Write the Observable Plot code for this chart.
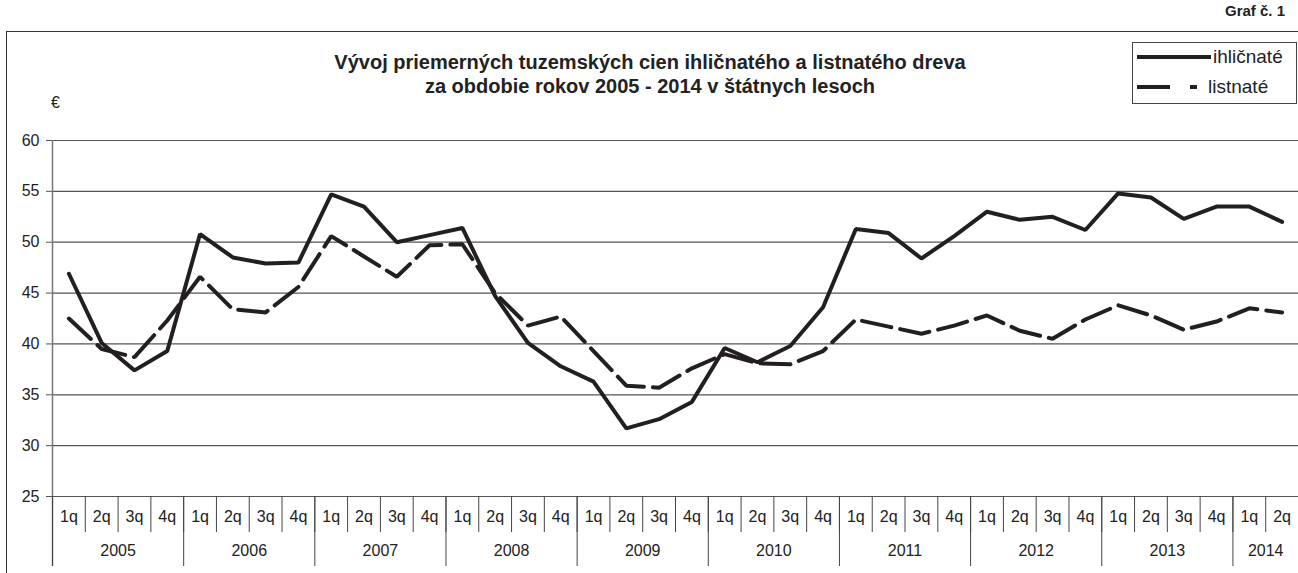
<!DOCTYPE html>
<html>
<head>
<meta charset="utf-8">
<script src="https://cdn.jsdelivr.net/npm/d3@7"></script>
<script src="https://cdn.jsdelivr.net/npm/@observablehq/plot@0.6"></script>
<style>
  body { margin: 0; background: #fff; font-family: "Liberation Sans", Arial, sans-serif; color: #222; }
  #wrap { position: relative; width: 1298px; height: 573px; overflow: hidden; background: #fff; }
  #chart { position: absolute; left: 0; top: 0; }
  #frame { position: absolute; left: 6px; top: 31px; width: 1300px; height: 560px;
           border-top: 1.5px solid #333; border-left: 1.5px solid #333; }
  #graf { position: absolute; right: 13px; top: 2px; font-weight: bold; font-size: 15px; line-height: 18px; }
  #title { position: absolute; left: 250px; width: 800px; top: 50px; text-align: center;
           font-weight: bold; font-size: 20px; line-height: 24px; }
  #euro { position: absolute; left: 51px; top: 94px; font-size: 16px; line-height: 18px; }
  #legend { position: absolute; left: 1132px; top: 42px; width: 163px; height: 60px;
            border: 1px solid #444; background: #fff; }
  #legend svg { position: absolute; left: 0; top: 0; }
  .lg { position: absolute; font-size: 19px; line-height: 22px; }
</style>
</head>
<body>
<div id="wrap">
  <div id="frame"></div>
  <div id="chart"></div>
  <div id="graf">Graf č. 1</div>
  <div id="title">Vývoj priemerných tuzemských cien ihličnatého a listnatého dreva<br>za obdobie rokov 2005 - 2014 v štátnych lesoch</div>
  <div id="euro">€</div>
  <div id="legend">
    <svg width="163" height="60">
      <line x1="4" x2="78" y1="14" y2="14" stroke="#231f20" stroke-width="4"/>
      <line x1="4" x2="37" y1="44" y2="44" stroke="#231f20" stroke-width="4"/>
      <line x1="57" x2="64" y1="44" y2="44" stroke="#231f20" stroke-width="4"/>
    </svg>
    <div class="lg" style="left:80px; top:3px;">ihličnaté</div>
    <div class="lg" style="left:75px; top:33px;">listnaté</div>
  </div>
</div>
<script>
// ---- data ----
const years = [2005, 2006, 2007, 2008, 2009, 2010, 2011, 2012, 2013, 2014];
const quarterLabels = ["1q", "2q", "3q", "4q"];
const yTickValues = [25, 30, 35, 40, 45, 50, 55, 60];
const seriesNames = ["ihličnaté", "listnaté"];
const ihlicnate = [46.9, 40.1, 37.4, 39.3, 50.8, 48.5, 47.9, 48.0, 54.7, 53.5, 50.0, 50.7,
                   51.4, 44.7, 40.1, 37.8, 36.3, 31.7, 32.6, 34.3, 39.6, 38.2, 39.8, 43.6,
                   51.3, 50.9, 48.4, 50.6, 53.0, 52.2, 52.5, 51.2, 54.8, 54.4, 52.3, 53.5,
                   53.5, 52.0];
const listnate = [42.5, 39.5, 38.7, 42.3, 46.6, 43.4, 43.1, 45.6, 50.6, 48.6, 46.6, 49.7,
                  49.8, 45.0, 41.8, 42.7, 39.3, 35.9, 35.7, 37.6, 39.0, 38.1, 38.0, 39.3,
                  42.4, 41.7, 41.0, 41.8, 42.8, 41.3, 40.5, 42.4, 43.8, 42.8, 41.4, 42.2,
                  43.5, 43.1];

// ---- derived tables ----
const periods = ihlicnate.map((v, i) => ({
  start: i, pos: i + 0.5,
  year: years[Math.floor(i / 4)], q: quarterLabels[i % 4]
}));
const yearGroups = years.map(y => {
  const ps = periods.filter(p => p.year === y);
  return { year: String(y), start: ps[0].start, center: d3.mean(ps, p => p.pos) };
});
const rows = [
  ...ihlicnate.map((v, i) => ({ pos: i + 0.5, value: v, s: seriesNames[0] })),
  ...listnate.map((v, i) => ({ pos: i + 0.5, value: v, s: seriesNames[1] }))
];
const yMin = yTickValues[0];

const ink = "#231f20";
const chart = Plot.plot({
  width: 1298, height: 573,
  marginLeft: 52, marginRight: 0, marginTop: 140, marginBottom: 77,
  style: { fontFamily: "Liberation Sans, Arial, sans-serif", fontSize: "15px", background: "transparent", color: "#222", overflow: "visible" },
  x: { domain: [0, periods.length], axis: null },
  y: { domain: [yMin, yTickValues[yTickValues.length - 1]], axis: null },
  marks: [
    Plot.ruleY(yTickValues, { stroke: "#555", strokeWidth: 1.2 }),
    Plot.axisY(yTickValues, { label: null, tickSize: 6, tickPadding: 7, fontSize: 16, stroke: "#555", fill: "#222" }),
    Plot.ruleX([0], { stroke: "#777", strokeWidth: 1.5, insetBottom: -70 }),
    Plot.ruleX(periods, { x: "start", y1: () => yMin, y2: () => yMin, insetBottom: -36, stroke: "#444", strokeWidth: 1 }),
    Plot.ruleX(yearGroups, { x: "start", y1: () => yMin, y2: () => yMin, insetBottom: -70, stroke: "#444", strokeWidth: 1 }),
    Plot.text(periods, { x: "pos", frameAnchor: "bottom", dy: 25, text: "q", fontSize: 16, fill: "#222" }),
    Plot.text(yearGroups, { x: "center", frameAnchor: "bottom", dy: 59, text: "year", fontSize: 16, fill: "#222" }),
    Plot.line(rows.filter(d => d.s === seriesNames[1]), { x: "pos", y: "value", stroke: ink, strokeWidth: 4, strokeDasharray: "30,9", strokeLinejoin: "miter" }),
    Plot.line(rows.filter(d => d.s === seriesNames[0]), { x: "pos", y: "value", stroke: ink, strokeWidth: 4, strokeLinejoin: "miter" })
  ]
});
document.getElementById("chart").appendChild(chart);
</script>
</body>
</html>
